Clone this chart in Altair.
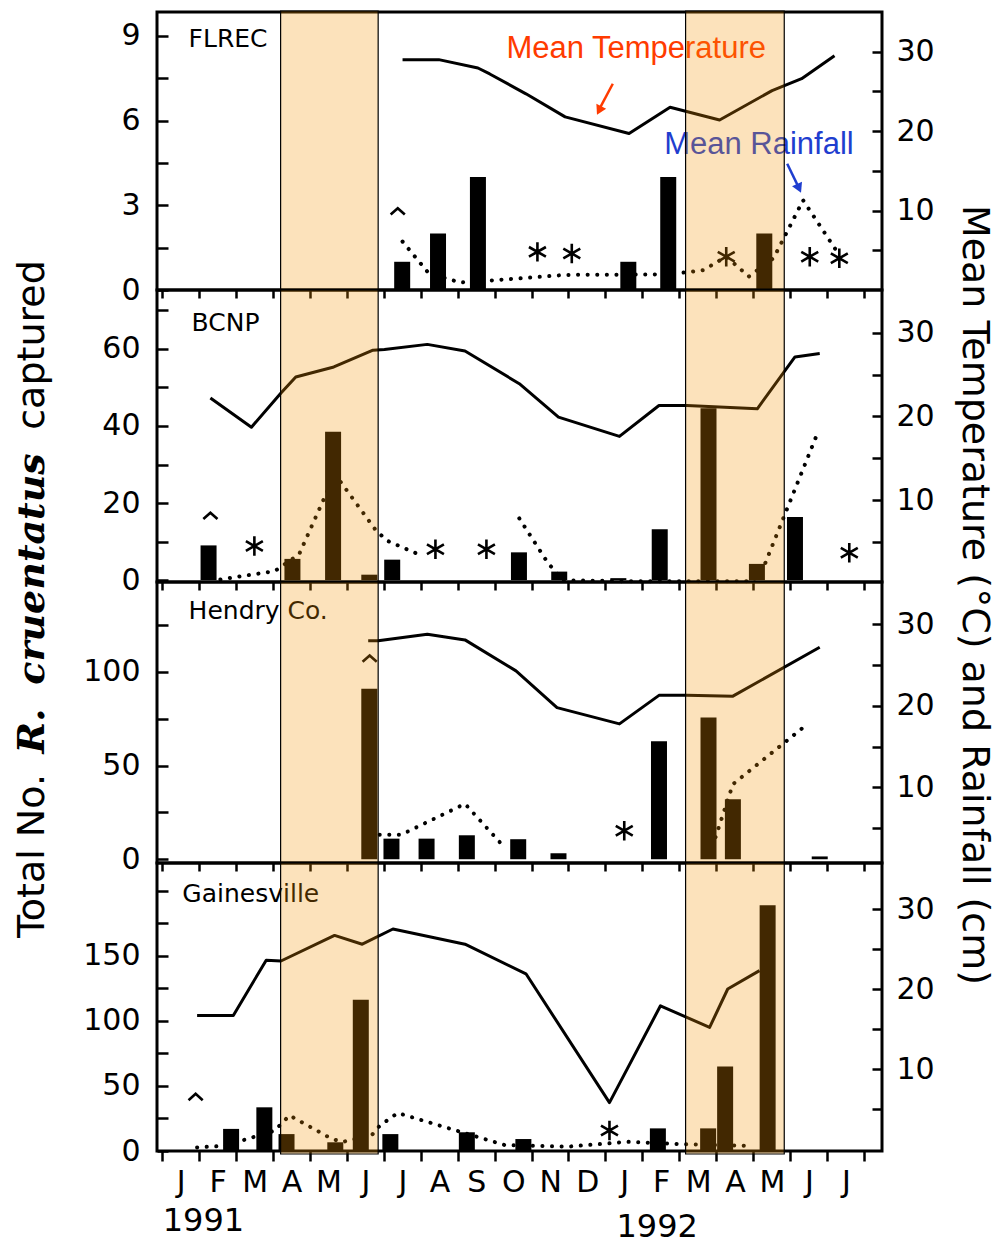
import json
import altair as alt
import pandas as pd

FONT = "DejaVu Sans"
SHADE = "#F39405"

MONTHS = ["J", "F", "M", "A", "M", "J", "J", "A", "S", "O", "N", "D",
          "J", "F", "M", "A", "M", "J", "J"]
YEARS = ["1991", "1992"]
YEAR_M = [0.62, 12.9]
X_DOMAIN = [-0.5, 18.85]
BOUNDS = [k - 0.5 for k in range(20)]
SHADE_START = [2.71, 13.67]
SHADE_END = [5.35, 16.34]

# ---------------- FLREC ----------------
FLREC_BAR_M = [6.0, 6.97, 8.05, 12.12, 13.2, 15.8]
FLREC_BAR_N = [1, 2, 4, 1, 4, 2]
FLREC_TEMP_M = [6.01, 6.99, 8.05, 8.37, 9.35, 10.41, 12.14, 13.25, 14.59, 16.01, 16.81, 17.7]
FLREC_TEMP_V = [29.0, 29.0, 27.95, 27.2, 24.7, 21.8, 19.7, 23.0, 21.4, 25.1, 26.6, 29.5]
FLREC_RAIN_M = [6.01, 6.72, 7.57, 8.41, 10.41, 12.82, 13.65, 14.15, 14.77, 15.38, 16.05, 16.85, 17.8]
FLREC_RAIN_V = [6.1, 2.1, 0.95, 1.2, 1.9, 1.95, 2.2, 2.5, 4.2, 1.7, 4.0, 11.3, 4.6]
FLREC_RAIN_SEG = [0] * 13
FLREC_STAR_M = [9.66, 10.59, 14.77, 17.03, 17.83]
FLREC_STAR_V = [4.8, 4.6, 4.2, 4.2, 4.0]
FLREC_CARET_M = [5.88]
FLREC_CARET_V = [9.9]

# ---------------- BCNP ----------------
BCNP_BAR_M = [0.76, 3.03, 4.13, 5.11, 5.73, 9.16, 10.25, 11.85, 12.97, 14.29, 15.6, 16.63]
BCNP_BAR_N = [9, 5.5, 38.5, 1.4, 5.3, 7.2, 2.2, 0.5, 13.2, 44.6, 4.2, 16.4]
BCNP_TEMP_M = [0.81, 1.92, 2.72, 3.12, 4.15, 5.21, 5.52, 6.68, 7.7, 9.17, 10.23, 11.88,
               12.95, 13.7, 15.61, 16.63, 17.3]
BCNP_TEMP_V = [22.2, 18.7, 22.8, 24.7, 25.9, 27.9, 28.0, 28.6, 27.8, 23.9, 19.9, 17.6,
               21.3, 21.3, 20.9, 27.1, 27.5]
BCNP_RAIN_M = [1.08, 2.55, 3.21, 4.18, 5.3, 5.61, 6.45, 9.17, 9.94, 10.35, 12.0, 15.49, 15.83, 17.25]
BCNP_RAIN_V = [0.5, 1.5, 3.5, 13.1, 6.3, 5.1, 3.5, 7.8, 2.5, 0.4, 0.3, 0.3, 2.5, 18.1]
BCNP_RAIN_SEG = [0, 0, 0, 0, 0, 0, 0, 1, 1, 1, 1, 1, 1, 1]
BCNP_STAR_M = [2.0, 6.9, 8.28, 18.1]
BCNP_STAR_V = [4.5, 4.1, 4.1, 3.7]
BCNP_CARET_M = [0.81]
BCNP_CARET_V = [8.1]

# ---------------- Hendry Co. ----------------
HENDRY_BAR_M = [5.11, 5.71, 6.66, 7.75, 9.14, 10.23, 12.95, 14.29, 14.95, 17.3]
HENDRY_BAR_N = [91, 11, 11, 12.8, 10.7, 3.2, 63, 75.7, 32, 1.5]
HENDRY_TEMP_M = [5.08, 5.35, 6.68, 7.7, 9.08, 10.19, 11.88, 12.95, 13.7, 14.95, 17.3]
HENDRY_TEMP_V = [28.0, 28.0, 28.8, 28.1, 24.3, 19.8, 17.8, 21.3, 21.3, 21.2, 27.2]
HENDRY_RAIN_M = [5.39, 5.97, 7.7, 8.72, 14.48, 14.95, 17.0]
HENDRY_RAIN_V = [4.2, 4.2, 8.0, 2.9, 3.9, 10.4, 17.9]
HENDRY_RAIN_SEG = [0, 0, 0, 0, 1, 1, 1]
HENDRY_STAR_M = [12.01]
HENDRY_STAR_V = [4.7]
HENDRY_CARET_M = [5.12]
HENDRY_CARET_V = [25.8]

# ---------------- Gainesville ----------------
GV_BAR_M = [1.37, 2.27, 2.87, 4.19, 4.88, 5.68, 7.75, 9.28, 12.92, 14.28, 14.74, 15.89]
GV_BAR_N = [17, 33.6, 13, 6.7, 116.4, 13, 14.4, 9.2, 17.4, 17.4, 65, 189]
GV_TEMP_M = [0.45, 1.43, 2.32, 2.72, 4.17, 4.92, 5.75, 7.7, 9.35, 11.61, 12.99, 14.32, 14.81, 15.67]
GV_TEMP_V = [16.7, 16.7, 23.6, 23.5, 26.7, 25.6, 27.5, 25.6, 21.9, 5.8, 17.9, 15.2, 20.0, 22.3]
GV_RAIN_M = [0.45, 1.2, 2.55, 2.95, 4.1, 4.4, 5.17, 5.39, 5.88, 8.77, 10.5, 12.1, 13.6, 15.43]
GV_RAIN_V = [0.2, 0.4, 2.3, 4.2, 1.25, 0.9, 1.7, 2.9, 4.5, 0.5, 0.3, 0.9, 0.6, 0.4]
GV_RAIN_SEG = [0] * 14
GV_STAR_M = [11.61]
GV_STAR_V = [2.3]
GV_CARET_M = [0.41]
GV_CARET_V = [6.5]

SITE_NAMES = ["FLREC", "BCNP", "Hendry Co.", "Gainesville"]
SITE_NAME_M = [0.22, 0.3, 0.22, 0.05]
SITE_NAME_V = [31.6, 31.1, 31.7, 31.9]

ANNOT_TEXT = ["Mean Temperature", "Mean Rainfall"]
ANNOT_M = [8.82, 13.09]
ANNOT_V = [30.4, 18.2]
ANNOT_COLOR = ["#FF3B00", "#1F3ECF"]
ARROW_M = [11.70, 16.42]
ARROW_V = [25.97, 15.9]
ARROW_M2 = [11.36, 16.70]
ARROW_V2 = [23.0, 13.2]
ARROW_HEAD_M = [11.33, 16.74]
ARROW_HEAD_V = [22.6, 12.8]
ARROW_ANGLE = [206.6, 155.0]

LEFT_PARTS = ["Total No.", "R.", "cruentatus", "captured"]
LEFT_Y = [844, 719, 557, 333]
RIGHT_TITLE = "Mean Temperature (°C) and Rainfall (cm)"

STAR_PATH = "M0,-1L0,1M-0.87,-0.5L0.87,0.5M-0.87,0.5L0.87,-0.5"
CARET_PATH = "M-1,0.45L0,-0.45L1,0.45"


def xq(field, axis=None):
    return alt.X(f"{field}:Q", scale=alt.Scale(domain=X_DOMAIN, nice=False, zero=False), axis=axis)


def yq(field, dom, axis=None):
    return alt.Y(f"{field}:Q", scale=alt.Scale(domain=dom, nice=False, zero=False), axis=axis)


def make_panel(ldom, lvals, lstep, lmax, rdom, bar_m, bar_n, temp_m, temp_v, rain_m, rain_v, rain_seg,
               star_m, star_v, caret_m, caret_v, idx, top_ticks, bottom, shade_top, shade_bot, extra=()):
    left_axis = alt.Axis(orient="left", values=lvals,
                         labelExpr=f"(datum.value % {lstep} == 0 && datum.value <= {lmax}) ? datum.label : ''",
                         offset=-11, tickSize=11, labelPadding=17, domain=False, grid=False,
                         title=None, labelOverlap=False, labelFlush=False, labelBound=False)
    right_axis = alt.Axis(orient="right", values=[5, 10, 15, 20, 25, 30],
                          labelExpr="datum.value % 10 == 0 ? datum.label : ''",
                          offset=-10, tickSize=10, labelPadding=14, domain=False, grid=False,
                          title=None, labelOverlap=False, labelFlush=False, labelBound=False)
    top_axis = None
    if top_ticks:
        top_axis = alt.Axis(orient="top", values=BOUNDS, labels=False, offset=-8, tickSize=8,
                            domain=False, grid=False, title=None)
    bars = alt.Chart(pd.DataFrame({"m": bar_m, "n": bar_n})).mark_bar(
        color="black", size=16, orient="vertical").encode(
        x=xq("m", top_axis), y=yq("n", ldom, left_axis))

    temp = alt.Chart(pd.DataFrame({"m": temp_m, "v": temp_v})).mark_line(
        color="black", strokeWidth=3, strokeJoin="round").encode(
        x=xq("m"), y=yq("v", rdom, right_axis), order="m:Q")
    rain = alt.Chart(pd.DataFrame({"m": rain_m, "v": rain_v, "seg": rain_seg})).mark_line(
        color="black", strokeWidth=4, strokeDash=[0.1, 9.5], strokeCap="round").encode(
        x=xq("m"), y=yq("v", rdom), detail="seg:N", order="m:Q")
    stars = alt.Chart(pd.DataFrame({"m": star_m, "v": star_v})).mark_point(
        shape=STAR_PATH, size=380, filled=False, stroke="black", strokeWidth=2.6, opacity=1).encode(
        x=xq("m"), y=yq("v", rdom))
    carets = alt.Chart(pd.DataFrame({"m": caret_m, "v": caret_v})).mark_point(
        shape=CARET_PATH, size=200, filled=False, stroke="black", strokeWidth=2.6, opacity=1).encode(
        x=xq("m"), y=yq("v", rdom))
    name = alt.Chart(pd.DataFrame({"m": [SITE_NAME_M[idx]], "v": [SITE_NAME_V[idx]],
                                   "t": [SITE_NAMES[idx]]})).mark_text(
        align="left", baseline="middle", font=FONT, fontSize=25, color="black").encode(
        x=xq("m"), y=yq("v", rdom), text="t:N")
    layers = [bars, temp, rain, stars, carets, name]
    for maker in extra:
        layers.append(maker(rdom))

    shade = alt.Chart(pd.DataFrame({"x0": SHADE_START, "x1": SHADE_END})).mark_rect(
        fill=SHADE, fillOpacity=0.27, stroke="black", strokeWidth=1.2, strokeOpacity=1).encode(
        x=xq("x0", bottom), x2="x1:Q", y=alt.value(shade_top), y2=alt.value(shade_bot))
    layers.append(shade)
    return layers


def annotations(rdom):
    df = pd.DataFrame({"m": ANNOT_M, "v": ANNOT_V, "t": ANNOT_TEXT, "c": ANNOT_COLOR})
    return alt.Chart(df).mark_text(align="left", baseline="middle", font="Liberation Sans",
                                   fontSize=31).encode(
        x=xq("m"), y=yq("v", rdom), text="t:N", color=alt.Color("c:N", scale=None))


def arrows(rdom):
    df = pd.DataFrame({"m": ARROW_M, "v": ARROW_V, "m2": ARROW_M2, "v2": ARROW_V2, "c": ANNOT_COLOR})
    return alt.Chart(df).mark_rule(strokeWidth=2.5).encode(
        x=xq("m"), y=yq("v", rdom), x2="m2:Q", y2="v2:Q", color=alt.Color("c:N", scale=None))


def heads(rdom):
    df = pd.DataFrame({"m": ARROW_HEAD_M, "v": ARROW_HEAD_V, "a": ARROW_ANGLE, "c": ANNOT_COLOR})
    return alt.Chart(df).mark_point(shape="triangle-up", filled=True, size=120, opacity=1).encode(
        x=xq("m"), y=yq("v", rdom), angle=alt.Angle("a:Q", scale=None),
        color=alt.Color("c:N", scale=None))


H = [278, 292, 281, 288]

month_label_expr = json.dumps(MONTHS) + "[round(datum.value + 0.5)] || ''"
bottom_axis = alt.Axis(orient="bottom", values=BOUNDS, labelExpr=month_label_expr, labelOffset=18.75,
                       domain=False, tickSize=10, labelPadding=6, title=None, grid=False,
                       labelOverlap=False, labelFlush=False, labelBound=False)

p1_layers = make_panel([0, 9.85], [0, 1.5, 3, 4.5, 6, 7.5, 9], 3, 9, [0, 35],
                       FLREC_BAR_M, FLREC_BAR_N, FLREC_TEMP_M, FLREC_TEMP_V,
                       FLREC_RAIN_M, FLREC_RAIN_V, FLREC_RAIN_SEG, FLREC_STAR_M, FLREC_STAR_V,
                       FLREC_CARET_M, FLREC_CARET_V, 0, False, None, -1, H[0],
                       extra=(annotations, arrows, heads))

# Global axis titles (placed in first panel; flush bounds keep them out of the layout)
one = pd.DataFrame({"a": [0]})
LEFT_STYLE = [("normal", "normal", FONT), ("italic", "bold", "DejaVu Serif"),
              ("italic", "bold", "DejaVu Serif"), ("normal", "normal", FONT)]
for txt, yy, (fs, fw, ff) in zip(LEFT_PARTS, LEFT_Y, LEFT_STYLE):
    p1_layers.append(alt.Chart(one).mark_text(
        text=txt, angle=270, align="center", baseline="middle", font=ff, fontSize=38,
        fontStyle=fs, fontWeight=fw, color="black").encode(x=alt.value(-124), y=alt.value(yy)))
p1_layers.append(alt.Chart(one).mark_text(
    text=RIGHT_TITLE, angle=90, align="center", baseline="middle",
    font=FONT, fontSize=38, color="black").encode(x=alt.value(817), y=alt.value(583)))

p2_layers = make_panel([-0.5, 75.3], list(range(0, 71, 10)), 20, 60, [0.2, 35.1],
                       BCNP_BAR_M, BCNP_BAR_N, BCNP_TEMP_M, BCNP_TEMP_V,
                       BCNP_RAIN_M, BCNP_RAIN_V, BCNP_RAIN_SEG, BCNP_STAR_M, BCNP_STAR_V,
                       BCNP_CARET_M, BCNP_CARET_V, 1, True, None, 0, H[1])
p3_layers = make_panel([-2, 148], list(range(0, 126, 25)), 50, 100, [0.74, 35.2],
                       HENDRY_BAR_M, HENDRY_BAR_N, HENDRY_TEMP_M, HENDRY_TEMP_V,
                       HENDRY_RAIN_M, HENDRY_RAIN_V, HENDRY_RAIN_SEG, HENDRY_STAR_M, HENDRY_STAR_V,
                       HENDRY_CARET_M, HENDRY_CARET_V, 2, True, None, 0, H[2])
p4_layers = make_panel([0, 221.5], list(range(0, 201, 25)), 50, 150, [-0.25, 35.75],
                       GV_BAR_M, GV_BAR_N, GV_TEMP_M, GV_TEMP_V,
                       GV_RAIN_M, GV_RAIN_V, GV_RAIN_SEG, GV_STAR_M, GV_STAR_V,
                       GV_CARET_M, GV_CARET_V, 3, True, bottom_axis, 0, H[3] + 3)
YEAR_DY = [70, 76]
for yr, ym, dy in zip(YEARS, YEAR_M, YEAR_DY):
    p4_layers.append(alt.Chart(pd.DataFrame({"m": [ym], "t": [yr]})).mark_text(
        align="center", baseline="middle", font=FONT, fontSize=32, color="black").encode(
        x=xq("m"), y=alt.value(H[3] + dy), text="t:N"))


def finish(layers, h):
    return alt.layer(*layers).resolve_scale(y="independent").resolve_axis(
        x="independent", y="independent").properties(width=725, height=h)


chart = alt.vconcat(finish(p1_layers, H[0]), finish(p2_layers, H[1]),
                    finish(p3_layers, H[2]), finish(p4_layers, H[3]),
                    spacing=0, bounds="flush").properties(
    padding={"left": 4, "top": 0, "right": 4, "bottom": 0}).configure_view(
    stroke="black", strokeWidth=3).configure_axis(
    labelFont=FONT, labelFontSize=30, labelColor="black", tickColor="black", tickWidth=2.5)

chart.save("out.html", embed_options={"renderer": "svg", "actions": False})
